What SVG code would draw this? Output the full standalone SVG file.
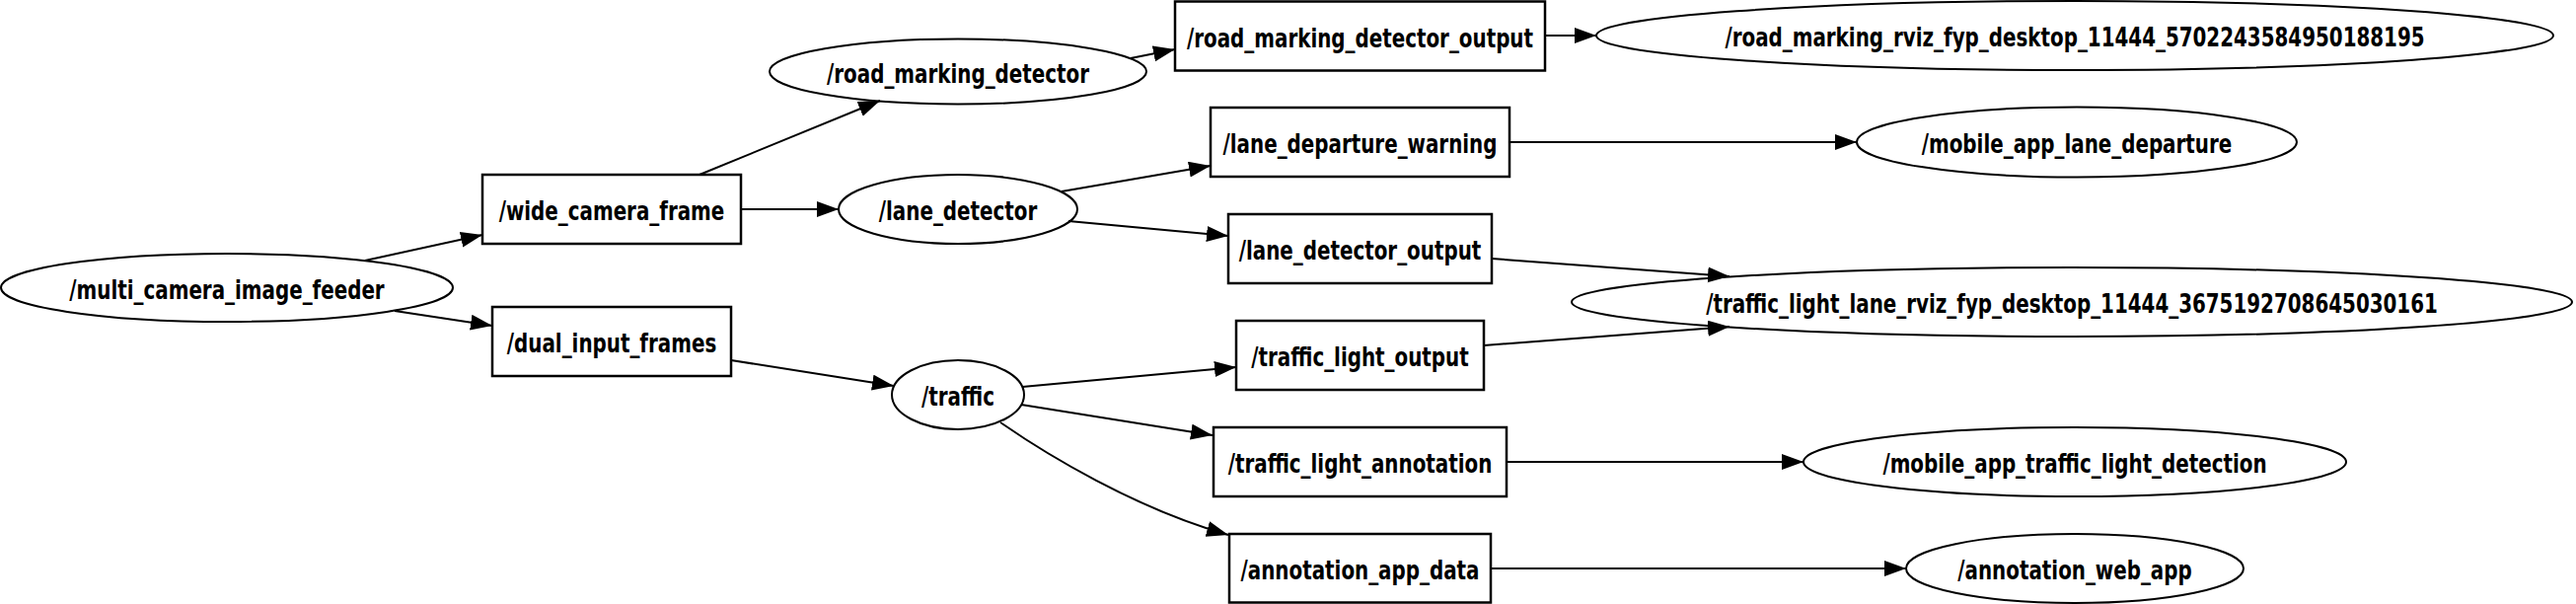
<svg xmlns="http://www.w3.org/2000/svg" width="2611" height="612" viewBox="0 0 2611 612">
<style>
.bg{fill:#ffffff}
.node ellipse{fill:none;stroke:#000;stroke-width:2}
.topic rect{fill:none;stroke:#000;stroke-width:2.5}
.lbl{font-family:"DejaVu Sans","Liberation Sans",sans-serif;font-weight:bold;font-size:26px;fill:#000;text-anchor:middle}
.edge{fill:none;stroke:#000;stroke-width:2;marker-end:url(#arr)}
</style>
<defs>
<marker id="arr" markerUnits="userSpaceOnUse" markerWidth="23" markerHeight="17" refX="22" refY="8" orient="auto">
<path d="M0,0 L22,8 L0,16 Z" fill="#000"/>
</marker>
</defs>
<rect class="bg" x="0" y="0" width="2611" height="612"/>
<g id="connectors">
<path class="edge" d="M370,264 L489,238"/>
<path class="edge" d="M400,315 L499,330"/>
<path class="edge" d="M709,177 L892,102"/>
<path class="edge" d="M751,212 L850,212"/>
<path class="edge" d="M1146,59 L1191,50"/>
<path class="edge" d="M1566,36 L1618,36"/>
<path class="edge" d="M1076,194 L1227,168"/>
<path class="edge" d="M1083,224 L1245,239"/>
<path class="edge" d="M1530,144 L1882,144"/>
<path class="edge" d="M1512,262 L1753,280"/>
<path class="edge" d="M1504,350 L1753,331"/>
<path class="edge" d="M741,365 L906,391"/>
<path class="edge" d="M1036,392 L1253,372"/>
<path class="edge" d="M1035,410 L1229,441"/>
<path class="edge" d="M1014,428 C1060,460 1150,515 1245,542"/>
<path class="edge" d="M1527,468 L1828,468"/>
<path class="edge" d="M1511,576 L1932,576"/>
</g>
<g id="multi_camera_image_feeder" class="node">
<ellipse cx="230" cy="291.5" rx="229" ry="34.5"/>
<text class="lbl" transform="translate(230,302.5) scale(0.765,1)">/multi_camera_image_feeder</text>
</g>
<g id="wide_camera_frame" class="topic">
<rect x="489" y="177" width="262" height="70"/>
<text class="lbl" transform="translate(620,223) scale(0.765,1)">/wide_camera_frame</text>
</g>
<g id="dual_input_frames" class="topic">
<rect x="499" y="311" width="242" height="70"/>
<text class="lbl" transform="translate(620,357) scale(0.765,1)">/dual_input_frames</text>
</g>
<g id="road_marking_detector" class="node">
<ellipse cx="971" cy="72.5" rx="191" ry="33"/>
<text class="lbl" transform="translate(971,83.5) scale(0.765,1)">/road_marking_detector</text>
</g>
<g id="lane_detector" class="node">
<ellipse cx="971" cy="212" rx="121" ry="35"/>
<text class="lbl" transform="translate(971,223) scale(0.765,1)">/lane_detector</text>
</g>
<g id="traffic" class="node">
<ellipse cx="971" cy="400" rx="67" ry="35"/>
<text class="lbl" transform="translate(971,411) scale(0.765,1)">/traffic</text>
</g>
<g id="road_marking_detector_output" class="topic">
<rect x="1191" y="1.5" width="375" height="70"/>
<text class="lbl" transform="translate(1378.5,47.5) scale(0.765,1)">/road_marking_detector_output</text>
</g>
<g id="lane_departure_warning" class="topic">
<rect x="1227" y="109" width="303" height="70"/>
<text class="lbl" transform="translate(1378.5,155) scale(0.765,1)">/lane_departure_warning</text>
</g>
<g id="lane_detector_output" class="topic">
<rect x="1245" y="217" width="267" height="70"/>
<text class="lbl" transform="translate(1378.5,263) scale(0.765,1)">/lane_detector_output</text>
</g>
<g id="traffic_light_output" class="topic">
<rect x="1253" y="325" width="251" height="70"/>
<text class="lbl" transform="translate(1378.5,371) scale(0.765,1)">/traffic_light_output</text>
</g>
<g id="traffic_light_annotation" class="topic">
<rect x="1230" y="433" width="297" height="70"/>
<text class="lbl" transform="translate(1378.5,479) scale(0.765,1)">/traffic_light_annotation</text>
</g>
<g id="annotation_app_data" class="topic">
<rect x="1246" y="541" width="265" height="69.5"/>
<text class="lbl" transform="translate(1378.5,587) scale(0.765,1)">/annotation_app_data</text>
</g>
<g id="road_marking_rviz" class="node">
<ellipse cx="2103" cy="36" rx="485" ry="35"/>
<text class="lbl" transform="translate(2103,47) scale(0.765,1)">/road_marking_rviz_fyp_desktop_11444_5702243584950188195</text>
</g>
<g id="mobile_app_lane_departure" class="node">
<ellipse cx="2105" cy="144" rx="223" ry="35.5"/>
<text class="lbl" transform="translate(2105,155) scale(0.765,1)">/mobile_app_lane_departure</text>
</g>
<g id="traffic_light_lane_rviz" class="node">
<ellipse cx="2100" cy="306" rx="507" ry="35"/>
<text class="lbl" transform="translate(2100,317) scale(0.765,1)">/traffic_light_lane_rviz_fyp_desktop_11444_3675192708645030161</text>
</g>
<g id="mobile_app_traffic_light_detection" class="node">
<ellipse cx="2103" cy="468" rx="275" ry="35"/>
<text class="lbl" transform="translate(2103,479) scale(0.765,1)">/mobile_app_traffic_light_detection</text>
</g>
<g id="annotation_web_app" class="node">
<ellipse cx="2103" cy="576" rx="171" ry="35"/>
<text class="lbl" transform="translate(2103,587) scale(0.765,1)">/annotation_web_app</text>
</g>
</svg>
